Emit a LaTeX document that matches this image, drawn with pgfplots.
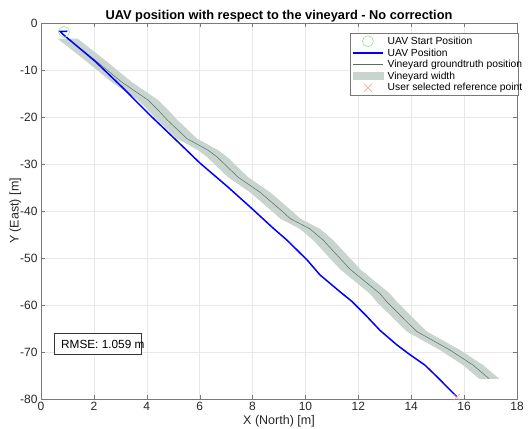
\documentclass[border=0pt]{standalone}
\usepackage{fontspec}
\setmainfont{Liberation Sans}
\usepackage{pgfplots}
\pgfplotsset{compat=1.18}

\definecolor{startgreen}{RGB}{140,230,140}
\definecolor{gtline}{RGB}{85,110,100}
\definecolor{band}{RGB}{200,212,206}
\definecolor{refred}{RGB}{250,150,140}
\definecolor{axgray}{RGB}{120,120,120}

\begin{document}
\begin{tikzpicture}
\begin{axis}[
    scale only axis,
    width=476pt, height=376pt,
    xmin=0, xmax=18, ymin=-80, ymax=0,
    xtick={0,2,...,18}, ytick={-80,-70,...,0},
    grid=major,
    major grid style={gray!18, line width=0.4pt},
    tick align=inside, tick pos=both,
    axis line style={axgray},
    tick style={axgray},
    major tick length=4pt,
    /pgf/number format/assume math mode=true,
    ticklabel style={font=\fontsize{12}{14}\selectfont, text=black!85},
    title={UAV position with respect to the vineyard - No correction},
    title style={font=\bfseries\fontsize{12.8}{14}\selectfont, yshift=-8.5pt},
    xlabel={X (North) [m]},
    ylabel={Y (East) [m]},
    label style={font=\fontsize{12.5}{14}\selectfont, text=black!85},
    xlabel style={yshift=2pt},
    ylabel style={yshift=-8pt},
    legend style={at={(0.649,0.973)}, anchor=north west,
        draw=axgray, fill=white, font=\fontsize{10.3}{11}\selectfont,
        inner sep=2pt, row sep=0.6pt, column sep=3pt,
        nodes={inner sep=1pt}},
    legend cell align=left,
]
\addlegendimage{legend image code/.code={\draw[startgreen, line width=0.6pt] (15pt,0pt) circle (5.5pt);}}
\addlegendentry{\makebox[127pt][l]{UAV Start Position}}
\addlegendimage{blue, line width=1.5pt, legend image code/.code={\draw[blue, line width=1.6pt] (0pt,0pt) -- (30pt,0pt);}}
\addlegendentry{\makebox[127pt][l]{UAV Position}}
\addlegendimage{legend image code/.code={\draw[gtline, line width=0.5pt] (0pt,0pt) -- (30pt,0pt);}}
\addlegendentry{\makebox[127pt][l]{Vineyard groundtruth position}}
\addlegendimage{legend image code/.code={\fill[band] (0pt,-3.5pt) rectangle (30pt,3.5pt);}}
\addlegendentry{\makebox[127pt][l]{Vineyard width}}
\addlegendimage{legend image code/.code={\draw[refred, line width=0.5pt] (11pt,-4pt) -- (19pt,4pt) (11pt,4pt) -- (19pt,-4pt);}}
\addlegendentry{\makebox[127pt][l]{User selected reference point}}

% vineyard width band
\addplot[fill=band, draw=none, forget plot] table {
x y
0.62 -3.3
1.66 -7.9
2.68 -12.6
3.67 -16.4
4.01 -18.3
4.39 -20.6
5.14 -24.6
5.92 -27.0
6.28 -28.5
7.07 -32.8
7.90 -36.0
8.77 -40.2
9.04 -41.6
9.79 -43.8
10.29 -46.2
11.31 -52.4
12.44 -57.6
12.71 -59.4
13.82 -65.6
15.09 -69.6
15.96 -72.8
16.57 -75.7
17.33 -75.7
16.72 -72.8
15.85 -69.6
14.58 -65.6
13.47 -59.4
13.20 -57.6
12.07 -52.4
11.05 -46.2
10.55 -43.8
9.80 -41.6
9.53 -40.2
8.66 -36.0
7.83 -32.8
7.04 -28.5
6.68 -27.0
5.90 -24.6
5.15 -20.6
4.77 -18.3
4.43 -16.4
3.44 -12.6
2.42 -7.9
1.38 -3.3
} -- cycle;

% vineyard groundtruth
\addplot[gtline, line width=0.5pt, forget plot] table {
x y
1.00 -3.3
2.04 -7.9
3.06 -12.6
4.05 -16.4
4.39 -18.3
4.77 -20.6
5.52 -24.6
6.30 -27.0
6.66 -28.5
7.45 -32.8
8.28 -36.0
9.15 -40.2
9.42 -41.6
10.17 -43.8
10.67 -46.2
11.69 -52.4
12.82 -57.6
13.09 -59.4
14.20 -65.6
15.47 -69.6
16.34 -72.8
16.95 -75.7
};

% UAV position
\addplot[blue, line width=1.5pt, forget plot] table {
x y
1.00 -1.75
0.72 -1.80
0.85 -2.50
2.04 -8.1
3.06 -13.6
4.12 -19.6
5.07 -24.7
6.01 -29.8
7.07 -34.9
7.90 -39.1
8.77 -43.6
9.30 -46.2
10.06 -50.4
10.55 -53.6
11.31 -57.2
11.75 -59.2
12.25 -62.0
12.82 -65.4
13.46 -68.5
13.96 -70.6
14.52 -72.8
14.98 -75.3
15.58 -78.7
15.72 -79.5
};

% start position
\addplot[only marks, mark=o, mark size=5.5pt, startgreen, mark options={line width=0.6pt}, forget plot] coordinates {(0.87,-1.9)};
% reference point
\addplot[only marks, mark=x, mark size=4.5pt, refred, mark options={line width=0.5pt}, forget plot, clip=false] coordinates {(15.72,-79.6)};

\node[draw=black!80, fill=white, anchor=south west, minimum height=21pt,
      inner xsep=0pt, font=\fontsize{11.8}{13}\selectfont]
  at (axis cs:0.49,-70.6) {\hspace{7pt}\makebox[80pt][l]{RMSE: 1.059 m}};
\end{axis}
\pgfresetboundingbox
\path (-41pt,-29pt) rectangle (488pt,399pt);
\end{tikzpicture}
\end{document}
